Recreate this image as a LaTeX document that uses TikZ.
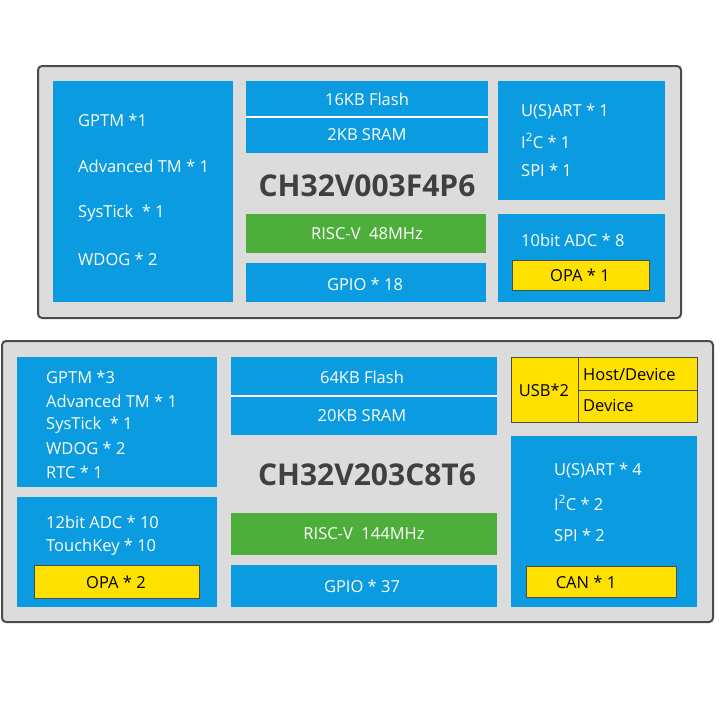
\documentclass[tikz,border=0pt]{standalone}
\usepackage{fontspec}
\setmainfont{Open Sans}
\definecolor{bl}{HTML}{0A9BE0}
\definecolor{gr}{HTML}{4DAE3C}
\definecolor{yl}{HTML}{FFE100}
\definecolor{gy}{HTML}{DCDCDC}
\begin{document}
\begin{tikzpicture}[x=1pt,y=-1pt,
 outer/.style={fill=gy,draw=black!70,line width=2pt,rounded corners=4pt},
 blk/.style={fill=bl,draw=none},
 grn/.style={fill=gr,draw=none},
 ylw/.style={fill=yl,draw=black!70,line width=0.8pt},
 wt/.style={text=white,font=\fontsize{16.5}{19}\selectfont,anchor=west,inner sep=0},
 ct/.style={text=white,font=\fontsize{16.5}{19}\selectfont,inner sep=0},
 kt/.style={text=black,font=\fontsize{16.5}{19}\selectfont,inner sep=0},
 ttl/.style={text=black!75,font=\bfseries\fontsize{30}{34}\selectfont,inner sep=0}]
\useasboundingbox (0,0) rectangle (720,720);
% top chip
\draw[outer] (38,66) rectangle (681,318);
\fill[blk] (53,81) rectangle (233,302);
\node[wt] (a1) at (78,120) {GPTM *1};
\node[wt] (a2) at (78,166) {Advanced TM * 1};
\node[wt] (a3) at (78,213) {SysTick\ \ * 1};
\node[wt] (a4) at (78,259) {WDOG * 2};
\fill[blk] (246,81) rectangle (488,153);
\draw[white,line width=1.2pt] (246,117) -- (488,117);
\node[ct] (f1) at (367,99) {16KB Flash};
\node[ct] (s1) at (367,135) {2KB SRAM};
\node[ttl] (t1) at (367,186) {CH32V003F4P6};
\fill[grn] (246,214) rectangle (486,253);
\node[ct] (r1) at (367,234) {RISC-V\ \ 48MHz};
\fill[blk] (246,263) rectangle (486,302);
\node[ct] (g1) at (365,284) {GPIO * 18};
\fill[blk] (498,81) rectangle (665,200);
\node[wt] (u1) at (521,112) {U(S)ART * 1};
\node[wt] (i1) at (521,141) {I\textsuperscript{2}C * 1};
\node[wt] (p1) at (521,170) {SPI * 1};
\fill[blk] (498,214) rectangle (665,302);
\node[wt] (d1) at (521,240) {10bit ADC * 8};
\draw[ylw] (512,260) rectangle (649,290);
\node[kt] (o1) at (580,275) {OPA * 1};
% bottom chip
\draw[outer] (2,341) rectangle (713,622);
\fill[blk] (17,357) rectangle (217,487);
\node[wt] (b1) at (46,377) {GPTM *3};
\node[wt] (b2) at (46,401) {Advanced TM * 1};
\node[wt] (b3) at (46,425) {SysTick\ \ * 1};
\node[wt] (b4) at (46,448) {WDOG * 2};
\node[wt] (b5) at (46,472) {RTC * 1};
\fill[blk] (17,497) rectangle (217,607);
\node[wt] (c1) at (46,522) {12bit ADC * 10};
\node[wt] (c2) at (46,547) {TouchKey * 10};
\draw[ylw] (34,565) rectangle (199,598);
\node[kt] (o2) at (116,582) {OPA * 2};
\fill[blk] (231,357) rectangle (497,435);
\draw[white,line width=1.2pt] (231,396) -- (497,396);
\node[ct] (f2) at (362,377) {64KB Flash};
\node[ct] (s2) at (362,416) {20KB SRAM};
\node[ttl] (t2) at (367,475) {CH32V203C8T6};
\fill[grn] (231,513) rectangle (497,555);
\node[ct] (r2) at (364,534) {RISC-V\ \ 144MHz};
\fill[blk] (231,565) rectangle (497,607);
\node[ct] (g2) at (362,586) {GPIO * 37};
\draw[ylw] (511,357) rectangle (697,422);
\draw[black!70,line width=0.8pt] (578,357) -- (578,422) (578,390) -- (697,390);
\node[kt] (us) at (544,390) {USB*2};
\node[kt,anchor=west] (hd) at (583,375) {Host/Device};
\node[kt,anchor=west] (dv) at (583,406) {Device};
\fill[blk] (511,436) rectangle (697,607);
\node[wt] (u2) at (554,471) {U(S)ART * 4};
\node[wt] (i2) at (554,503) {I\textsuperscript{2}C * 2};
\node[wt] (p2) at (554,535) {SPI * 2};
\draw[ylw] (526,566) rectangle (676,597);
\node[kt] (cn) at (586,582) {CAN * 1};
\end{tikzpicture}
\end{document}
